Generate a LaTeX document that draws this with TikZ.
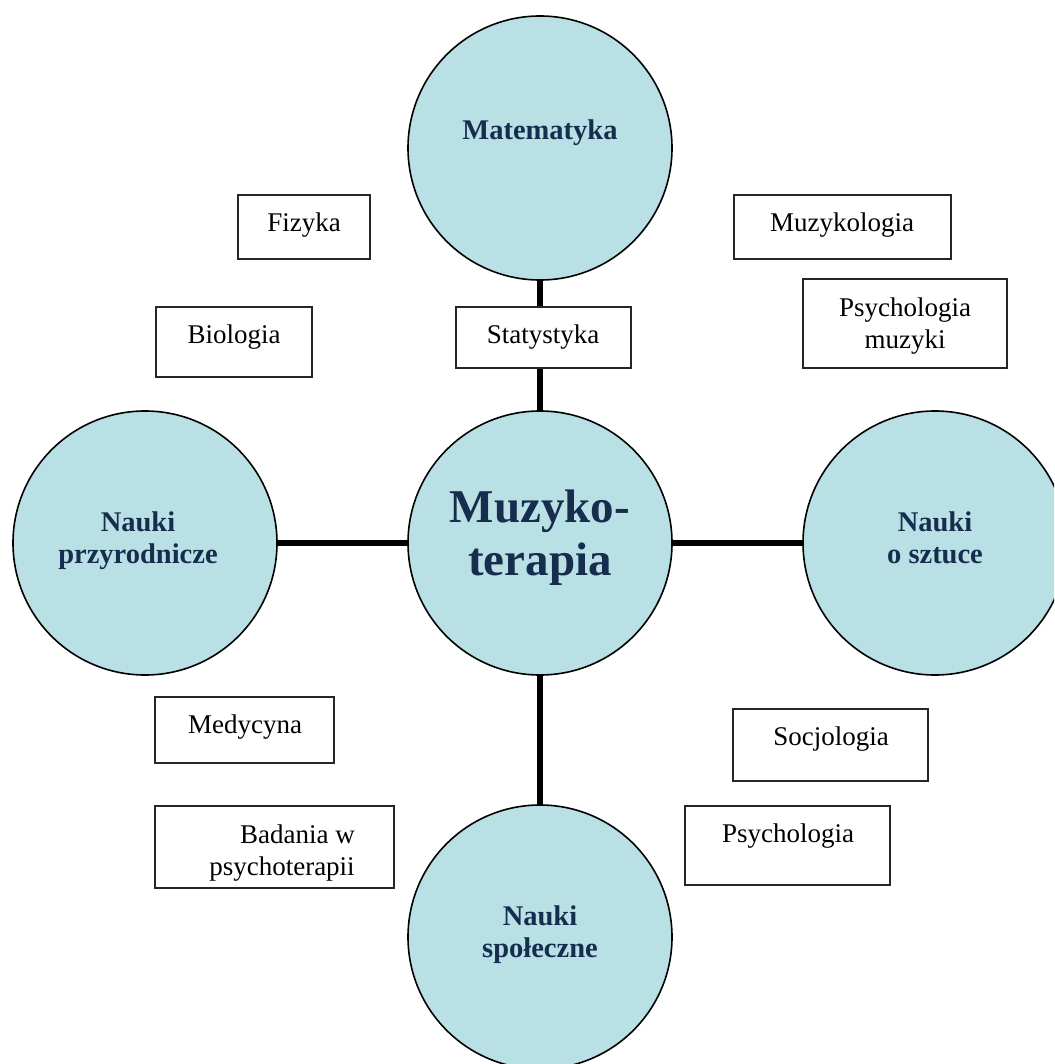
\documentclass[tikz,border=0pt]{standalone}
\usepackage{fontspec}
\setmainfont{Liberation Serif}
\definecolor{fillc}{RGB}{185,224,228}
\definecolor{navy}{RGB}{23,45,77}
\begin{document}
\begin{tikzpicture}[x=1pt,y=-1pt,
  bigc/.style={circle, draw=black, line width=1.6pt, fill=fillc, minimum size=264pt, inner sep=0pt},
  box/.style={rectangle, draw=black!85, line width=1.6pt, fill=white, inner sep=0pt},
  ctext/.style={anchor=base, align=center, text=navy, font=\fontsize{28.5}{32}\selectfont\bfseries},
  btext/.style={anchor=base, align=center, font=\fontsize{27}{32}\selectfont},
  link/.style={line width=6pt, draw=black}]
\useasboundingbox (0,0) rectangle (1054,1064);
\clip (0,0) rectangle (1054,1064);
% circles
\node[bigc] (mat) at (540,148) {};
\node[bigc] (mz)  at (540,543) {};
\node[bigc] (np)  at (145,543) {};
\node[bigc] (nsz) at (935,543) {};
\node[bigc] (nsp) at (540,937) {};
% boxes
\node[box, minimum width=132pt, minimum height=64pt] (fiz)  at (304,227) {};
\node[box, minimum width=156pt, minimum height=70pt] (bio)  at (234,342) {};
\node[box, minimum width=175pt, minimum height=61pt] (stat) at (543.5,337.5) {};
\node[box, minimum width=217pt, minimum height=64pt] (muzk) at (842.5,227) {};
\node[box, minimum width=204pt, minimum height=89pt] (psm)  at (905,323.5) {};
\node[box, minimum width=179pt, minimum height=66pt] (med)  at (244.5,730) {};
\node[box, minimum width=239pt, minimum height=82pt] (bad)  at (274.5,847) {};
\node[box, minimum width=195pt, minimum height=72pt] (soc)  at (830.5,745) {};
\node[box, minimum width=205pt, minimum height=79pt] (psy)  at (787.5,845.5) {};
% connectors
\draw[link] (mat.south) -- (stat.north -| mat.south);
\draw[link] (stat.south -| mz.north) -- (mz.north);
\draw[link] (np) -- (mz);
\draw[link] (mz) -- (nsz);
\draw[link] (mz) -- (nsp);
% circle texts (base = baseline of last line)
\node[ctext] (matt) at (540,140) {Matematyka};
\node[ctext, font=\fontsize{47}{53}\selectfont\bfseries] (mzt) at (540,575) {Muzyko-\\terapia};
\node[ctext] (npt)  at (138,563) {Nauki\\przyrodnicze};
\node[ctext] (nszt) at (935,563) {Nauki\\o sztuce};
\node[ctext] (nspt) at (540,957) {Nauki\\społeczne};
% box texts
\node[btext] (fizt)  at (304,232) {Fizyka};
\node[btext] (biot)  at (234,343) {Biologia};
\node[btext] (statt) at (543,343) {Statystyka};
\node[btext] (muzkt) at (842,232) {Muzykologia};
\node[btext] (psmt)  at (905,348) {Psychologia\\muzyki};
\node[btext] (medt)  at (245,733) {Medycyna};
\node[btext, align=right] (badt) at (282,875) {Badania w\\psychoterapii};
\node[btext] (soct)  at (831,745) {Socjologia};
\node[btext] (psyt)  at (788,842) {Psychologia};
\end{tikzpicture}
\end{document}
